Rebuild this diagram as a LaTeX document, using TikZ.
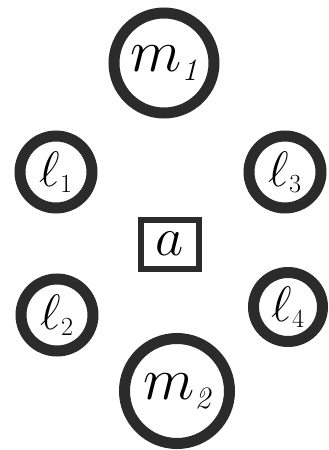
\documentclass[tikz,border=0pt]{standalone}
\usepackage{graphicx}
\definecolor{ink}{HTML}{2B2B2B}
\newcommand{\bigsym}[2]{\scalebox{2.4}{\Huge$#1$}\raisebox{-9pt}{\scalebox{1.25}{\Huge\itshape #2}}}
\newcommand{\smallsym}[2]{\scalebox{2.0}{\Huge$#1$}\raisebox{-6pt}{\scalebox{1.05}{\Huge #2}}}
\begin{document}
\begin{tikzpicture}[x=1pt,y=-1pt,
  bigring/.style={circle,draw=ink,line width=11pt,inner sep=0pt,minimum size=99pt},
  smallring/.style={circle,draw=ink,line width=11pt,inner sep=0pt,minimum size=72pt},
  abox/.style={rectangle,draw=ink,line width=6pt,inner sep=0pt,minimum width=58pt,minimum height=49pt},
  lbl/.style={text=ink}]
\useasboundingbox (0,0) rectangle (329,450);
\node[bigring,minimum size=100pt] (m1) at (164,63) {\bigsym{m}{1}};
\node[smallring] (l1) at (56,172) {\smallsym{\ell}{1}};
\node[smallring] (l3) at (285,172) {\smallsym{\ell}{3}};
\node[abox] (a) at (170,244) {\scalebox{2.2}{\Huge$a$}};
\node[smallring] (l2) at (57,315) {\smallsym{\ell}{2}};
\node[smallring,minimum size=69pt] (l4) at (288,307) {\smallsym{\ell}{4}};
\node[bigring,minimum size=105pt] (m2) at (177,391) {\bigsym{m}{2}};
\end{tikzpicture}
\end{document}
